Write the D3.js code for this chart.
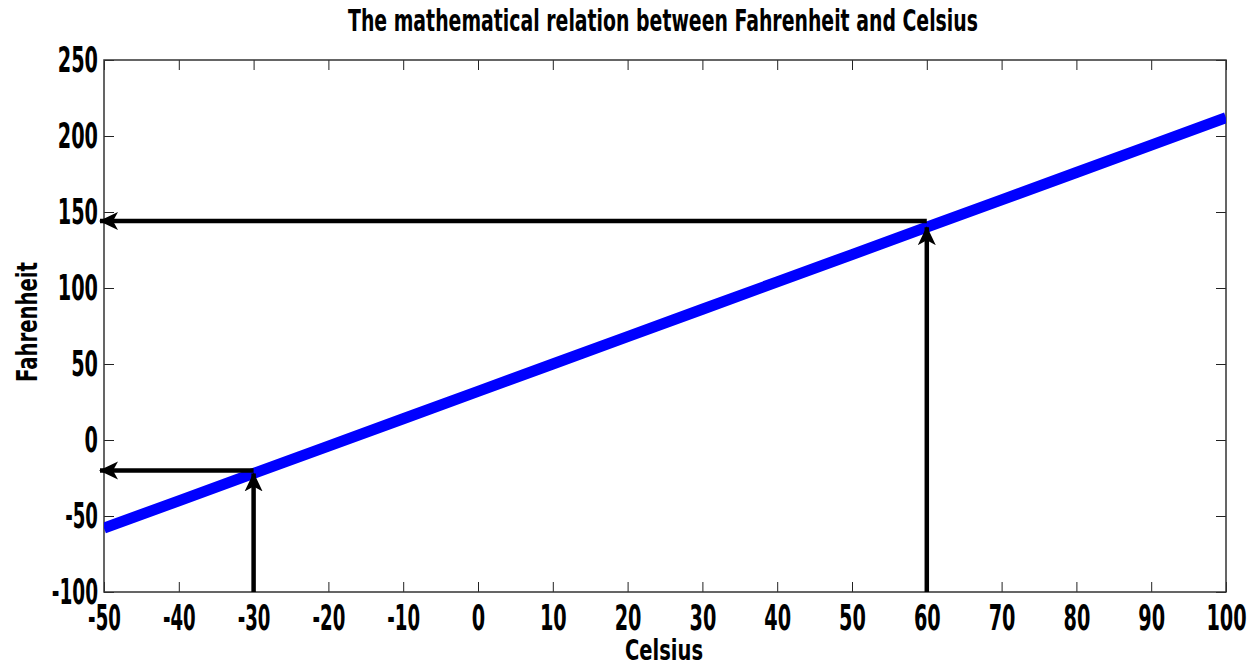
<!DOCTYPE html>
<html><head><meta charset="utf-8">
<script src="https://cdn.jsdelivr.net/npm/d3@7"></script>
<style>
body{margin:0;background:#fff;}
text{font-family:"DejaVu Sans Condensed","Liberation Sans Narrow",sans-serif;font-weight:bold;fill:#000;}
</style></head>
<body><svg id="c" width="1255" height="667"></svg>
<script>
const celsius = [-50,-40,-30,-20,-10,0,10,20,30,40,50,60,70,80,90,100];
const fahrenheit = [-58,-40,-22,-4,14,32,50,68,86,104,122,140,158,176,194,212];
const xTicks = [-50,-40,-30,-20,-10,0,10,20,30,40,50,60,70,80,90,100];
const yTicks = [-100,-50,0,50,100,150,200,250];
// arrows: [x1,y1,x2,y2] in data units
const hArrows = [[60,144,-50,144],[-30,-20,-50,-20]];
const vArrows = [[60,-100,60,140],[-30,-100,-30,-22]];
const title = "The mathematical relation between Fahrenheit and Celsius";
const xLabel = "Celsius", yLabel = "Fahrenheit";

const svg = d3.select("#c");
const L=104,R=1226,T=60,B=592;
const x = d3.scaleLinear().domain([-50,100]).range([L,R]);
const y = d3.scaleLinear().domain([-100,250]).range([B,T]);

svg.append("defs").append("marker").attr("id","ah").attr("viewBox","0 0 20 20")
 .attr("refX",18).attr("refY",10).attr("markerWidth",20).attr("markerHeight",20)
 .attr("markerUnits","userSpaceOnUse").attr("orient","auto")
 .append("path").attr("d","M0,1 L19,10 L0,19 L5,10 Z").attr("fill","#000");

const fmt = d=>String(d);
const tl = s=>(s.replace("-","").length*13.4 + (s[0]==="-"?6:0));
const axStyle = g=>{g.selectAll(".domain").remove();g.selectAll("line").attr("stroke","#222");
 g.selectAll("text").attr("font-size",36).attr("fill","#000")
  .attr("textLength",function(){return tl(this.textContent);})
  .attr("lengthAdjust","spacingAndGlyphs");};

svg.append("g").attr("transform",`translate(0,${B})`)
 .call(d3.axisBottom(x).tickValues(xTicks).tickSize(-10).tickPadding(4).tickFormat(fmt))
 .call(axStyle).selectAll("text").attr("dy","0.71em").attr("y",12);
svg.append("g").attr("transform",`translate(0,${T})`)
 .call(d3.axisTop(x).tickValues(xTicks).tickSize(-10).tickFormat(""))
 .call(g=>{g.selectAll(".domain").remove();g.selectAll("line").attr("stroke","#222");});
svg.append("g").attr("transform",`translate(${L},0)`)
 .call(d3.axisLeft(y).tickValues(yTicks).tickSize(-10).tickPadding(6).tickFormat(fmt))
 .call(axStyle);
svg.append("g").attr("transform",`translate(${R},0)`)
 .call(d3.axisRight(y).tickValues(yTicks).tickSize(-10).tickFormat(""))
 .call(g=>{g.selectAll(".domain").remove();g.selectAll("line").attr("stroke","#222");});
svg.append("rect").attr("x",L).attr("y",T).attr("width",R-L).attr("height",B-T)
 .attr("fill","none").attr("stroke","#333").attr("stroke-width",1.5);

svg.append("clipPath").attr("id","clip").append("rect").attr("x",L).attr("y",T).attr("width",R-L).attr("height",B-T);
svg.append("path").datum(celsius.map((c,i)=>[c,fahrenheit[i]]))
 .attr("clip-path","url(#clip)")
 .attr("d",d3.line().x(d=>x(d[0])).y(d=>y(d[1])))
 .attr("fill","none").attr("stroke","#0000ff").attr("stroke-width",11);

svg.selectAll(".arr").data(hArrows.concat(vArrows)).join("line")
 .attr("x1",d=>x(d[0])).attr("y1",d=>y(d[1]))
 .attr("x2",(d,i)=>i<2?x(d[2])-4:x(d[2])).attr("y2",d=>y(d[3]))
 .attr("stroke","#000").attr("stroke-width",4.5).attr("marker-end","url(#ah)");

svg.append("text").attr("x",663).attr("y",31).attr("text-anchor","middle")
 .attr("font-size",30).attr("textLength",630).attr("lengthAdjust","spacingAndGlyphs").text(title);
svg.append("text").attr("x",664).attr("y",660).attr("text-anchor","middle")
 .attr("font-size",29).attr("textLength",78).attr("lengthAdjust","spacingAndGlyphs").text(xLabel);
svg.append("text").attr("transform","translate(37,322) rotate(-90)").attr("text-anchor","middle")
 .attr("font-size",29).attr("textLength",120).attr("lengthAdjust","spacingAndGlyphs").text(yLabel);
</script></body></html>
